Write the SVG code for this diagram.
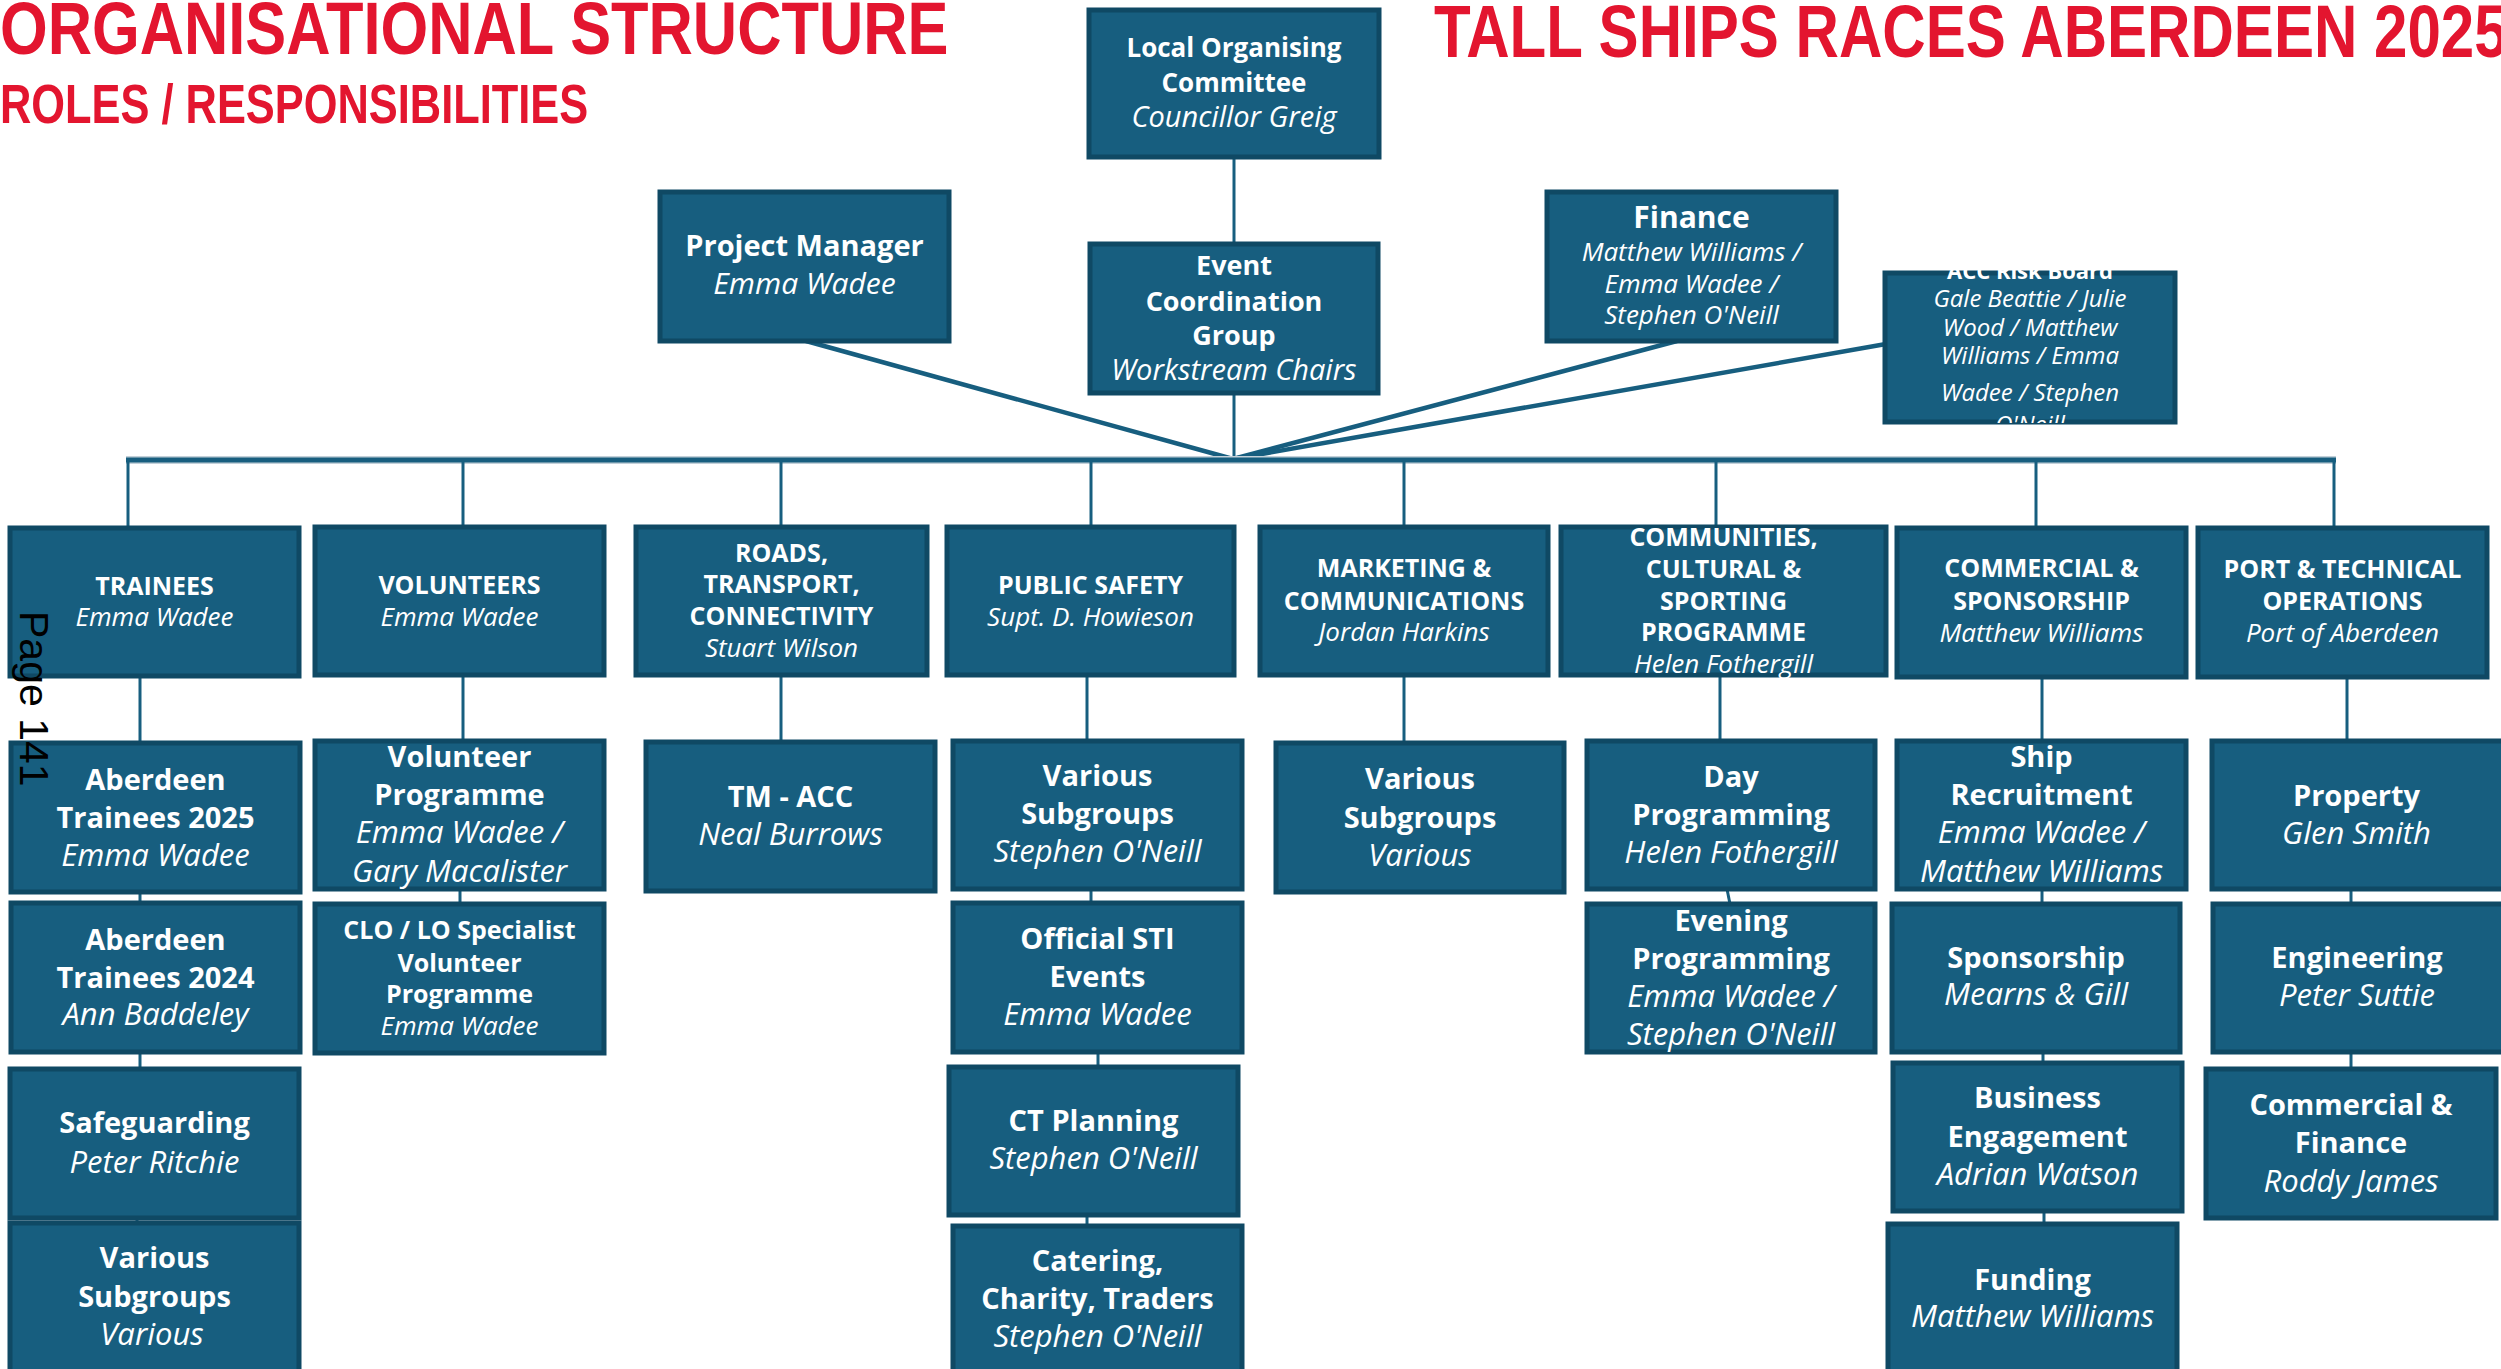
<svg xmlns="http://www.w3.org/2000/svg" width="2501" height="1369" viewBox="0 0 2501 1369">
<style>
.box{fill:#175e7f;stroke:#0f4964;stroke-width:5}
.t{font-family:"Open Sans","Liberation Sans",sans-serif;fill:#fff;text-anchor:middle}
.b{font-weight:700}
.i{font-style:italic;font-weight:400}
.s22{font-size:22px}.s24{font-size:24px}.s25{font-size:25px}.s26{font-size:26px}.s27{font-size:27px}.s28{font-size:28px}.s29{font-size:29px}.s30{font-size:30px}.s31{font-size:31px}
.title{font-family:"Liberation Sans",Arial,sans-serif;font-weight:700;fill:#e3152f}
.c{stroke:#175e7f;stroke-width:3;fill:none}
.cw{stroke:#175e7f;stroke-width:4.5;fill:none}
</style>
<defs>
<clipPath id="accClip"><rect x="1880" y="266" width="300" height="157"/></clipPath>
</defs>
<rect width="2501" height="1369" fill="#fff"/>

<g id="titles">
<text class="title" transform="translate(0,54) scale(0.818,1)" font-size="75">ORGANISATIONAL STRUCTURE</text>
<text class="title" transform="translate(0,123) scale(0.775,1)" font-size="56">ROLES / RESPONSIBILITIES</text>
<text class="title" transform="translate(1434,57) scale(0.801,1)" font-size="75">TALL SHIPS RACES ABERDEEN 2025</text>
</g>

<g id="connectors">
<line class="c" x1="1234" y1="157" x2="1234" y2="244"/>
<line class="c" x1="1234" y1="393" x2="1234" y2="459"/>
<line class="cw" x1="806" y1="341" x2="1233" y2="459"/>
<line class="cw" x1="1677" y1="341" x2="1233" y2="459"/>
<line class="cw" x1="1886" y1="344" x2="1233" y2="459"/>
<line x1="126" y1="460" x2="2336" y2="460" stroke="#c3d0d9" stroke-width="8"/>
<line x1="126" y1="460" x2="2336" y2="460" stroke="#175e7f" stroke-width="5"/>
<line class="c" x1="128" y1="460" x2="128" y2="528"/>
<line class="c" x1="463" y1="460" x2="463" y2="527"/>
<line class="c" x1="781" y1="460" x2="781" y2="527"/>
<line class="c" x1="1091" y1="460" x2="1091" y2="527"/>
<line class="c" x1="1404" y1="460" x2="1404" y2="527"/>
<line class="c" x1="1716" y1="460" x2="1716" y2="527"/>
<line class="c" x1="2036" y1="460" x2="2036" y2="528"/>
<line class="c" x1="2334" y1="460" x2="2334" y2="528"/>
<line class="c" x1="140" y1="676" x2="140" y2="743"/>
<line class="c" x1="140" y1="892" x2="140" y2="903"/>
<line class="c" x1="140" y1="1052" x2="140" y2="1069"/>
<line class="c" x1="137" y1="1218" x2="137" y2="1223"/>
<line class="c" x1="463" y1="675" x2="463" y2="741"/>
<line class="c" x1="460" y1="889" x2="460" y2="904"/>
<line class="c" x1="781" y1="675" x2="781" y2="742"/>
<line class="c" x1="1087" y1="675" x2="1087" y2="741"/>
<line class="c" x1="1091" y1="889" x2="1091" y2="903"/>
<line class="c" x1="1098" y1="1052" x2="1098" y2="1067"/>
<line class="c" x1="1087" y1="1215" x2="1087" y2="1226"/>
<line class="c" x1="1404" y1="675" x2="1404" y2="743"/>
<line class="c" x1="1720" y1="675" x2="1720" y2="741"/>
<line class="c" x1="1727" y1="889" x2="1730" y2="904"/>
<line class="c" x1="2042" y1="677" x2="2042" y2="741"/>
<line class="c" x1="2042" y1="889" x2="2042" y2="904"/>
<line class="c" x1="2043" y1="1052" x2="2043" y2="1063"/>
<line class="c" x1="2044" y1="1211" x2="2044" y2="1224"/>
<line class="c" x1="2347" y1="677" x2="2347" y2="741"/>
<line class="c" x1="2351" y1="889" x2="2351" y2="904"/>
<line class="c" x1="2351" y1="1052" x2="2351" y2="1069"/>
</g>

<g id="loc"><rect class="box" x="1089" y="10" width="290" height="147"/>
<text class="t b s26"><tspan x="1234" y="57">Local Organising</tspan><tspan x="1234" y="92">Committee</tspan></text>
<text class="t i s29" x="1234" y="127">Councillor Greig</text></g>

<g id="pm"><rect class="box" x="660" y="192" width="289" height="149"/>
<text class="t b s29" x="804.5" y="256">Project Manager</text>
<text class="t i s30" x="804.5" y="294">Emma Wadee</text></g>

<g id="ecg"><rect class="box" x="1090" y="244" width="288" height="149"/>
<text class="t b s27"><tspan x="1234" y="275">Event</tspan><tspan x="1234" y="311">Coordination</tspan><tspan x="1234" y="345">Group</tspan></text>
<text class="t i s29" x="1234" y="380">Workstream Chairs</text></g>

<g id="finance"><rect class="box" x="1547" y="192" width="289" height="149"/>
<text class="t b s30" x="1691.5" y="228">Finance</text>
<text class="t i s26"><tspan x="1691.5" y="261">Matthew Williams /</tspan><tspan x="1691.5" y="293">Emma Wadee /</tspan><tspan x="1691.5" y="324">Stephen O'Neill</tspan></text></g>

<g id="acc"><rect class="box" x="1885" y="273" width="290" height="149"/>
<g clip-path="url(#accClip)">
<text class="t b s22" x="2030" y="279">ACC Risk Board</text>
<text class="t i s24"><tspan x="2030" y="307">Gale Beattie / Julie</tspan><tspan x="2030" y="336">Wood / Matthew</tspan><tspan x="2030" y="364">Williams / Emma</tspan><tspan x="2030" y="401">Wadee / Stephen</tspan><tspan x="2030" y="433">O'Neill</tspan></text>
</g></g>

<g id="trainees"><rect class="box" x="10" y="528" width="289" height="148"/>
<text class="t b s25" x="154.5" y="595">TRAINEES</text>
<text class="t i s26" x="154.5" y="626">Emma Wadee</text></g>

<g id="volunteers"><rect class="box" x="315" y="527" width="289" height="148"/>
<text class="t b s25" x="459.5" y="594">VOLUNTEERS</text>
<text class="t i s26" x="459.5" y="626">Emma Wadee</text></g>

<g id="roads"><rect class="box" x="636" y="527" width="291" height="148"/>
<text class="t b s25"><tspan x="781.5" y="562">ROADS,</tspan><tspan x="781.5" y="593">TRANSPORT,</tspan><tspan x="781.5" y="625">CONNECTIVITY</tspan></text>
<text class="t i s26" x="781.5" y="657">Stuart Wilson</text></g>

<g id="publicsafety"><rect class="box" x="947" y="527" width="287" height="148"/>
<text class="t b s25" x="1090.5" y="594">PUBLIC SAFETY</text>
<text class="t i s26" x="1090.5" y="626">Supt. D. Howieson</text></g>

<g id="marketing"><rect class="box" x="1260" y="527" width="288" height="148"/>
<text class="t b s25"><tspan x="1404" y="577">MARKETING &amp;</tspan><tspan x="1404" y="610">COMMUNICATIONS</tspan></text>
<text class="t i s26" x="1404" y="641">Jordan Harkins</text></g>

<g id="communities"><rect class="box" x="1561" y="527" width="325" height="148"/>
<text class="t b s25"><tspan x="1723.5" y="546">COMMUNITIES,</tspan><tspan x="1723.5" y="578">CULTURAL &amp;</tspan><tspan x="1723.5" y="610">SPORTING</tspan><tspan x="1723.5" y="641">PROGRAMME</tspan></text>
<text class="t i s26" x="1723.5" y="673">Helen Fothergill</text></g>

<g id="commercial"><rect class="box" x="1897" y="528" width="289" height="149"/>
<text class="t b s25"><tspan x="2041.5" y="577">COMMERCIAL &amp;</tspan><tspan x="2041.5" y="610">SPONSORSHIP</tspan></text>
<text class="t i s26" x="2041.5" y="642">Matthew Williams</text></g>

<g id="port"><rect class="box" x="2198" y="528" width="289" height="149"/>
<text class="t b s25"><tspan x="2342.5" y="578">PORT &amp; TECHNICAL</tspan><tspan x="2342.5" y="610">OPERATIONS</tspan></text>
<text class="t i s26" x="2342.5" y="642">Port of Aberdeen</text></g>

<g id="aberdeen2025"><rect class="box" x="11" y="743" width="289" height="149"/>
<text class="t b s29"><tspan x="155.5" y="790">Aberdeen</tspan><tspan x="155.5" y="828">Trainees 2025</tspan></text>
<text class="t i s31" x="155.5" y="866">Emma Wadee</text></g>

<g id="aberdeen2024"><rect class="box" x="11" y="903" width="289" height="149"/>
<text class="t b s29"><tspan x="155.5" y="950">Aberdeen</tspan><tspan x="155.5" y="988">Trainees 2024</tspan></text>
<text class="t i s31" x="155.5" y="1025">Ann Baddeley</text></g>

<g id="safeguarding"><rect class="box" x="10" y="1069" width="289" height="149"/>
<text class="t b s29" x="154.5" y="1133">Safeguarding</text>
<text class="t i s31" x="154.5" y="1173">Peter Ritchie</text></g>

<g id="variousTrainees"><rect class="box" x="10" y="1223" width="289" height="160"/>
<text class="t b s29"><tspan x="154.5" y="1268">Various</tspan><tspan x="154.5" y="1307">Subgroups</tspan></text>
<text class="t i s31" x="152" y="1345">Various</text></g>

<g id="volunteerProgramme"><rect class="box" x="315" y="741" width="289" height="148"/>
<text class="t b s29"><tspan x="459.5" y="767">Volunteer</tspan><tspan x="459.5" y="805">Programme</tspan></text>
<text class="t i s31"><tspan x="459.5" y="843">Emma Wadee /</tspan><tspan x="459.5" y="882">Gary Macalister</tspan></text></g>

<g id="clo"><rect class="box" x="315" y="904" width="289" height="149"/>
<text class="t b s25"><tspan x="459.5" y="939">CLO / LO Specialist</tspan><tspan x="459.5" y="972">Volunteer</tspan><tspan x="459.5" y="1003">Programme</tspan></text>
<text class="t i s26" x="459.5" y="1035">Emma Wadee</text></g>

<g id="tmacc"><rect class="box" x="646" y="742" width="289" height="149"/>
<text class="t b s29" x="790.5" y="807">TM - ACC</text>
<text class="t i s31" x="790.5" y="845">Neal Burrows</text></g>

<g id="variousSafety"><rect class="box" x="953" y="741" width="289" height="148"/>
<text class="t b s29"><tspan x="1097.5" y="786">Various</tspan><tspan x="1097.5" y="824">Subgroups</tspan></text>
<text class="t i s31" x="1097.5" y="862">Stephen O'Neill</text></g>

<g id="officialSTI"><rect class="box" x="953" y="903" width="289" height="149"/>
<text class="t b s29"><tspan x="1097.5" y="949">Official STI</tspan><tspan x="1097.5" y="987">Events</tspan></text>
<text class="t i s31" x="1097.5" y="1025">Emma Wadee</text></g>

<g id="ctPlanning"><rect class="box" x="949" y="1067" width="289" height="148"/>
<text class="t b s29" x="1093.5" y="1131">CT Planning</text>
<text class="t i s31" x="1093.5" y="1169">Stephen O'Neill</text></g>

<g id="catering"><rect class="box" x="953" y="1226" width="289" height="160"/>
<text class="t b s29"><tspan x="1097.5" y="1271">Catering,</tspan><tspan x="1097.5" y="1309">Charity, Traders</tspan></text>
<text class="t i s31" x="1097.5" y="1347">Stephen O'Neill</text></g>

<g id="variousMarketing"><rect class="box" x="1276" y="743" width="288" height="149"/>
<text class="t b s29"><tspan x="1420" y="789">Various</tspan><tspan x="1420" y="828">Subgroups</tspan></text>
<text class="t i s31" x="1420" y="866">Various</text></g>

<g id="dayProgramming"><rect class="box" x="1587" y="741" width="288" height="148"/>
<text class="t b s29"><tspan x="1731" y="787">Day</tspan><tspan x="1731" y="825">Programming</tspan></text>
<text class="t i s31" x="1731" y="863">Helen Fothergill</text></g>

<g id="eveningProgramming"><rect class="box" x="1587" y="904" width="288" height="148"/>
<text class="t b s29"><tspan x="1731" y="931">Evening</tspan><tspan x="1731" y="969">Programming</tspan></text>
<text class="t i s31"><tspan x="1731" y="1007">Emma Wadee /</tspan><tspan x="1731" y="1045">Stephen O'Neill</tspan></text></g>

<g id="shipRecruitment"><rect class="box" x="1897" y="741" width="289" height="148"/>
<text class="t b s29"><tspan x="2041.5" y="767">Ship</tspan><tspan x="2041.5" y="805">Recruitment</tspan></text>
<text class="t i s31"><tspan x="2041.5" y="843">Emma Wadee /</tspan><tspan x="2041.5" y="882">Matthew Williams</tspan></text></g>

<g id="sponsorship"><rect class="box" x="1892" y="904" width="288" height="148"/>
<text class="t b s29" x="2036" y="968">Sponsorship</text>
<text class="t i s31" x="2036" y="1005">Mearns &amp; Gill</text></g>

<g id="businessEngagement"><rect class="box" x="1893" y="1063" width="289" height="148"/>
<text class="t b s29"><tspan x="2037.5" y="1108">Business</tspan><tspan x="2037.5" y="1147">Engagement</tspan></text>
<text class="t i s31" x="2037.5" y="1185">Adrian Watson</text></g>

<g id="funding"><rect class="box" x="1888" y="1224" width="289" height="160"/>
<text class="t b s29" x="2032.5" y="1290">Funding</text>
<text class="t i s31" x="2032.5" y="1327">Matthew Williams</text></g>

<g id="property"><rect class="box" x="2212" y="741" width="292" height="148"/>
<text class="t b s29" x="2356.5" y="806">Property</text>
<text class="t i s31" x="2356.5" y="844">Glen Smith</text></g>

<g id="engineering"><rect class="box" x="2213" y="904" width="291" height="148"/>
<text class="t b s29" x="2357" y="968">Engineering</text>
<text class="t i s31" x="2357" y="1006">Peter Suttie</text></g>

<g id="commercialFinance"><rect class="box" x="2206" y="1069" width="290" height="149"/>
<text class="t b s29"><tspan x="2351" y="1115">Commercial &amp;</tspan><tspan x="2351" y="1153">Finance</tspan></text>
<text class="t i s31" x="2351" y="1192">Roddy James</text></g>

<text x="0" y="0" transform="translate(20,611) rotate(90)" font-family="Liberation Sans, Arial, sans-serif" font-size="41" fill="#000">Page 141</text>
</svg>
